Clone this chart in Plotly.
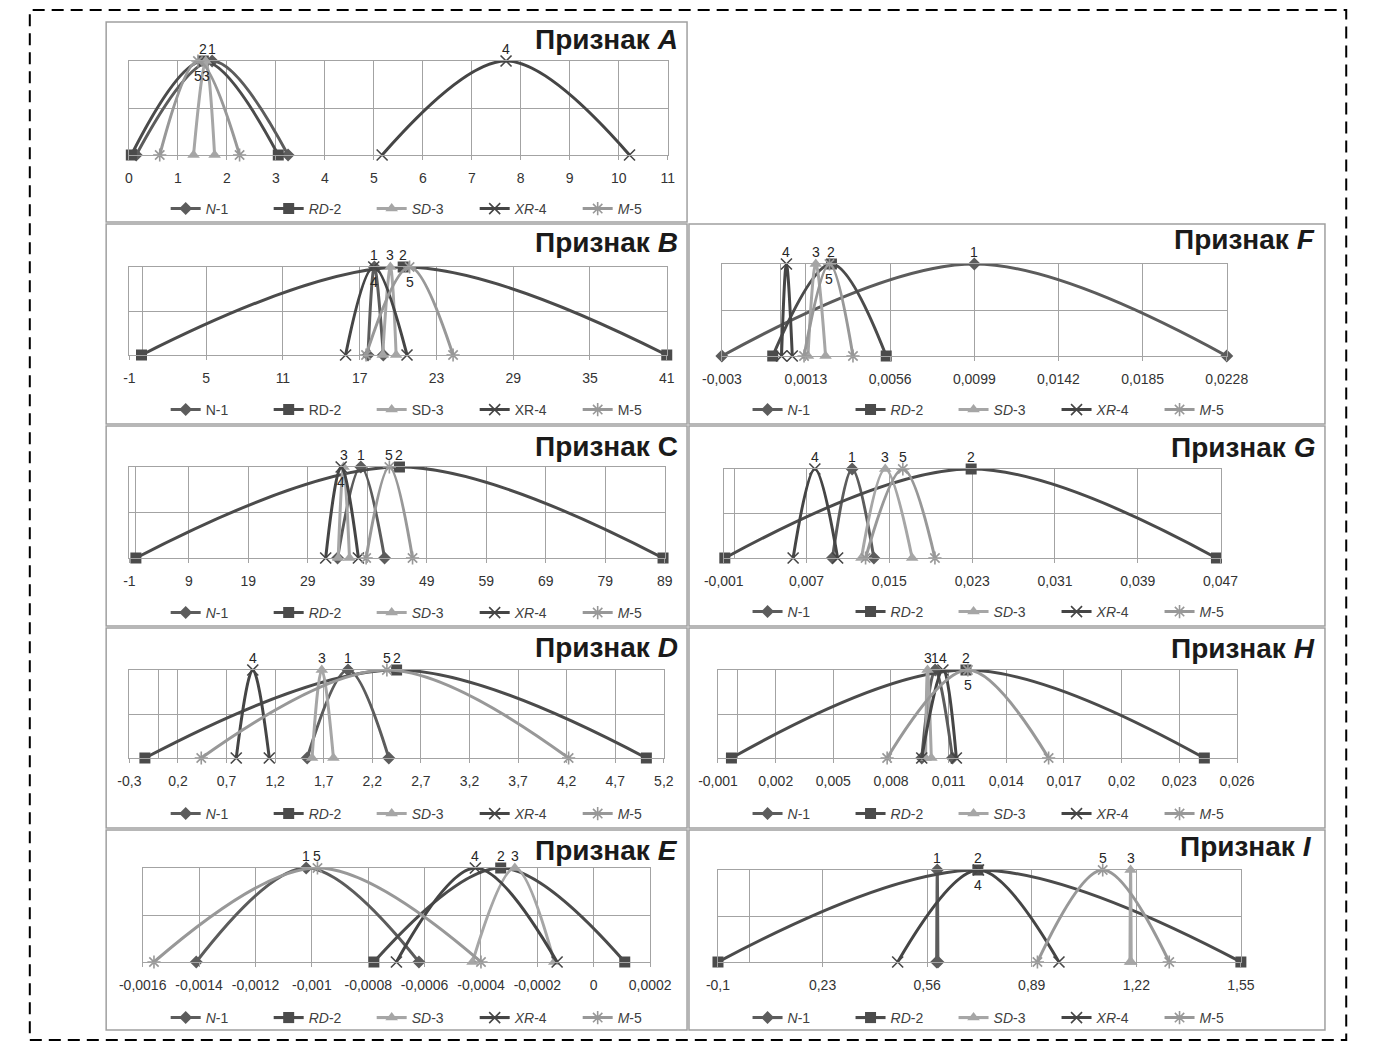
import plotly.graph_objects as go

# ---------------- data ----------------
series_letters = ["N", "RD", "SD", "XR", "M"]
series_nums = ["1", "2", "3", "4", "5"]

A_left = [0.15, 0.05, 1.32, 5.17, 0.63]
A_peak = [1.70, 1.52, 1.57, 7.70, 1.41]
A_right = [3.25, 3.05, 1.75, 10.22, 2.26]
A_labelpos = ["top", "top", "bottom", "top", "bottom"]
A_ticks = [0, 1, 2, 3, 4, 5, 6, 7, 8, 9, 10, 11]
A_ticktext = ["0", "1", "2", "3", "4", "5", "6", "7", "8", "9", "10", "11"]

B_left = [17.65, -0.05, 18.8, 15.9, 17.5]
B_peak = [18.15, 20.4, 19.4, 18.1, 20.9]
B_right = [18.85, 41.0, 19.85, 20.7, 24.3]
B_labelpos = ["top", "top", "top", "bottom", "bottom"]
B_ticks = [-1, 5, 11, 17, 23, 29, 35, 41]
B_ticktext = ["-1", "5", "11", "17", "23", "29", "35", "41"]

C_left = [34.0, 0.1, 34.1, 32.0, 38.8]
C_peak = [37.9, 44.4, 35.0, 34.6, 42.7]
C_right = [41.9, 88.7, 36.0, 37.5, 46.6]
C_labelpos = ["top", "top", "top", "bottom", "top"]
C_ticks = [-1, 9, 19, 29, 39, 49, 59, 69, 79, 89]
C_ticktext = ["-1", "9", "19", "29", "39", "49", "59", "69", "79", "89"]

D_left = [1.53, -0.14, 1.58, 0.80, 0.44]
D_peak = [1.95, 2.45, 1.68, 0.97, 2.35]
D_right = [2.37, 5.02, 1.80, 1.14, 4.22]
D_labelpos = ["top", "top", "top", "top", "top"]
D_ticks = [-0.3, 0.2, 0.7, 1.2, 1.7, 2.2, 2.7, 3.2, 3.7, 4.2, 4.7, 5.2]
D_ticktext = ["-0,3", "0,2", "0,7", "1,2", "1,7", "2,2", "2,7", "3,2", "3,7", "4,2", "4,7", "5,2"]

E_left = [-0.00141, -0.00078, -0.00043, -0.00070, -0.00156]
E_peak = [-0.00102, -0.00033, -0.00028, -0.00042, -0.00098]
E_right = [-0.00062, 0.00011, -0.00014, -0.00013, -0.00040]
E_labelpos = ["top", "top", "top", "top", "top"]
E_ticks = [-0.0016, -0.0014, -0.0012, -0.001, -0.0008, -0.0006, -0.0004, -0.0002, 0, 0.0002]
E_ticktext = ["-0,0016", "-0,0014", "-0,0012", "-0,001", "-0,0008", "-0,0006",
              "-0,0004", "-0,0002", "0", "0,0002"]

F_left = [-0.0030, -0.0004, 0.0014, 0.00005, 0.0012]
F_peak = [0.0099, 0.0026, 0.0018, 0.0003, 0.0025]
F_right = [0.0228, 0.0054, 0.0023, 0.0006, 0.0037]
F_labelpos = ["top", "top", "top", "top", "bottom"]
F_ticks = [-0.003, 0.0013, 0.0056, 0.0099, 0.0142, 0.0185, 0.0228]
F_ticktext = ["-0,003", "0,0013", "0,0056", "0,0099", "0,0142", "0,0185", "0,0228"]

G_left = [0.0095, -0.0009, 0.0123, 0.0057, 0.0127]
G_peak = [0.0114, 0.0229, 0.0146, 0.0078, 0.0163]
G_right = [0.0135, 0.0466, 0.0172, 0.0100, 0.0194]
G_labelpos = ["top", "top", "top", "top", "top"]
G_ticks = [-0.001, 0.007, 0.015, 0.023, 0.031, 0.039, 0.047]
G_ticktext = ["-0,001", "0,007", "0,015", "0,023", "0,031", "0,039", "0,047"]

H_left = [0.0096, -0.0003, 0.0098, 0.0096, 0.0078]
H_peak = [0.0103, 0.0119, 0.0099, 0.0107, 0.0120]
H_right = [0.0112, 0.0243, 0.0101, 0.0114, 0.0162]
H_labelpos = ["top", "top", "top", "top", "bottom"]
H_ticks = [-0.001, 0.002, 0.005, 0.008, 0.011, 0.014, 0.017, 0.02, 0.023, 0.026]
H_ticktext = ["-0,001", "0,002", "0,005", "0,008", "0,011", "0,014", "0,017", "0,02", "0,023", "0,026"]

I_left = [0.590, -0.100, 1.200, 0.467, 0.908]
I_peak = [0.592, 0.720, 1.202, 0.722, 1.114]
I_right = [0.594, 1.550, 1.204, 0.976, 1.324]
I_labelpos = ["top", "top", "top", "bottom", "top"]
I_ticks = [-0.1, 0.23, 0.56, 0.89, 1.22, 1.55]
I_ticktext = ["-0,1", "0,23", "0,56", "0,89", "1,22", "1,55"]

panel_keys = ["A", "B", "C", "D", "E", "F", "G", "H", "I"]
panel_data = {
    "A": (A_left, A_peak, A_right, A_labelpos, A_ticks, A_ticktext),
    "B": (B_left, B_peak, B_right, B_labelpos, B_ticks, B_ticktext),
    "C": (C_left, C_peak, C_right, C_labelpos, C_ticks, C_ticktext),
    "D": (D_left, D_peak, D_right, D_labelpos, D_ticks, D_ticktext),
    "E": (E_left, E_peak, E_right, E_labelpos, E_ticks, E_ticktext),
    "F": (F_left, F_peak, F_right, F_labelpos, F_ticks, F_ticktext),
    "G": (G_left, G_peak, G_right, G_labelpos, G_ticks, G_ticktext),
    "H": (H_left, H_peak, H_right, H_labelpos, H_ticks, H_ticktext),
    "I": (I_left, I_peak, I_right, I_labelpos, I_ticks, I_ticktext),
}
italic_legend = {"B": False}
italic_title = {"C": False}

# ---------------- styling / layout ----------------
W, H = 1375, 1042
colors = ["#5c5c5c", "#4b4b4b", "#a6a6a6", "#454545", "#989898"]
symbols = ["diamond", "square", "triangle-up", "x-thin-open", "asterisk-open"]
msizes = [10, 11, 11, 11, 11]
GRID = "#a3a3a3"
FONT = "Liberation Sans"

geom = {
    "A": dict(px=(108.5, 666), py=(61, 155), box=(85, 22, 686, 222), title=(679, 40), leg=(413, 209)),
    "B": dict(px=(109, 665), py=(267, 355), box=(85, 224, 686, 424), title=(679, 242), leg=(413, 410)),
    "C": dict(px=(109, 663), py=(467, 558), box=(85, 426, 686, 626), title=(679, 446), leg=(413, 613)),
    "D": dict(px=(109, 662), py=(670, 758), box=(85, 628, 686, 828), title=(679, 647), leg=(413, 814)),
    "E": dict(px=(122.8, 647.8), py=(868, 962), box=(85, 830, 686, 1030), title=(679, 850), leg=(413, 1018)),
    "F": dict(px=(722, 1244.4), py=(264, 356), box=(688, 224, 1346, 424), title=(1338, 240), leg=(1015, 410)),
    "G": dict(px=(724, 1238), py=(469, 558), box=(688, 426, 1346, 626), title=(1338, 447), leg=(1015, 612)),
    "H": dict(px=(718, 1255), py=(670, 758), box=(688, 628, 1346, 828), title=(1338, 648), leg=(1015, 814)),
    "I": dict(px=(718, 1259), py=(870, 962), box=(688, 830, 1346, 1030), title=(1335, 846), leg=(1015, 1018)),
}


def fx(p):
    return p / W


def fy(p):
    return 1 - p / H


fig = go.Figure()
layout = dict(
    width=W, height=H, autosize=False,
    margin=dict(l=0, r=0, t=0, b=0),
    paper_bgcolor="white", plot_bgcolor="white",
    font=dict(family=FONT, color="#333333"),
    shapes=[], annotations=[],
)

for i, key in enumerate(panel_keys, start=1):
    left, peak, right, labelpos, ticks, ticktext = panel_data[key]
    g = geom[key]
    xa = "x" if i == 1 else f"x{i}"
    ya = "y" if i == 1 else f"y{i}"
    xl = "xaxis" if i == 1 else f"xaxis{i}"
    yl = "yaxis" if i == 1 else f"yaxis{i}"
    legname = "legend" if i == 1 else f"legend{i}"
    ital = italic_legend.get(key, True)

    for s in range(5):
        nm = (f"<i>{series_letters[s]}</i>-{series_nums[s]}" if ital
              else f"{series_letters[s]}-{series_nums[s]}")
        fig.add_trace(go.Scatter(
            x=[left[s], peak[s], right[s]], y=[0, 1, 0],
            mode="lines+markers", name=nm, legend=legname,
            xaxis=xa, yaxis=ya, cliponaxis=False,
            line=dict(color=colors[s], width=3, shape="spline", smoothing=1),
            marker=dict(symbol=symbols[s], size=msizes[s], color=colors[s],
                        line=dict(color=colors[s], width=1.6 if s >= 3 else 0)),
            hoverinfo="skip",
        ))
        # number label at the peak
        up = labelpos[s] == "top"
        layout["annotations"].append(dict(
            xref=xa, yref=ya, x=peak[s], y=1, text=series_nums[s],
            showarrow=False, xanchor="center", yanchor="middle",
            yshift=12 if up else -15,
            font=dict(family=FONT, size=14, color="#262626"),
        ))

    layout[xl] = dict(
        domain=[fx(g["px"][0]), fx(g["px"][1])], range=[ticks[0], ticks[-1]],
        anchor=ya, tickmode="array", tickvals=ticks, ticktext=ticktext,
        showgrid=True, gridcolor=GRID, gridwidth=1,
        showline=True, linecolor=GRID, linewidth=1, mirror=True,
        zeroline=True, zerolinecolor=GRID, zerolinewidth=1,
        ticks="outside", ticklen=4, tickcolor=GRID, ticklabelstandoff=6,
        tickfont=dict(family=FONT, size=14, color="#333333"),
        fixedrange=True,
    )
    layout[yl] = dict(
        domain=[fy(g["py"][1]), fy(g["py"][0])], range=[0, 1], anchor=xa,
        tickmode="array", tickvals=[0, 0.5, 1], showticklabels=False,
        showgrid=True, gridcolor=GRID, gridwidth=1,
        showline=True, linecolor=GRID, linewidth=1, mirror=True,
        zeroline=False, ticks="", fixedrange=True,
    )
    layout[legname] = dict(
        x=fx(g["leg"][0]), y=fy(g["leg"][1]), xanchor="center", yanchor="middle",
        orientation="h", bgcolor="rgba(0,0,0,0)", borderwidth=0,
        font=dict(family=FONT, size=14, color="#404040"),
        entrywidth=58, entrywidthmode="pixels", itemwidth=30,
        traceorder="normal",
    )
    bx0, by0, bx1, by1 = g["box"]
    layout["shapes"].append(dict(
        type="rect", xref="paper", yref="paper",
        x0=fx(bx0), x1=fx(bx1), y0=fy(by1), y1=fy(by0),
        line=dict(color="#a0a0a0", width=1.5), fillcolor="rgba(0,0,0,0)", layer="below",
    ))
    tl = f"<i>{key}</i>" if italic_title.get(key, True) else key
    layout["annotations"].append(dict(
        xref="paper", yref="paper", x=fx(g["title"][0]), y=fy(g["title"][1]),
        xanchor="right", yanchor="middle", showarrow=False,
        text=f"<b>Признак {tl}</b>",
        font=dict(family=FONT, size=28, color="#1a1a1a"),
    ))

# outer dashed frame
layout["shapes"].append(dict(
    type="rect", xref="paper", yref="paper",
    x0=fx(6), x1=fx(1368), y0=fy(1040), y1=fy(10),
    line=dict(color="black", width=2, dash="12px,7px"), fillcolor="rgba(0,0,0,0)",
))

fig.update_layout(**layout)
fig.write_html(
    "out.html",
    config={"displayModeBar": False},
    post_script="document.body.style.margin='0';document.body.style.overflow='hidden';",
)
